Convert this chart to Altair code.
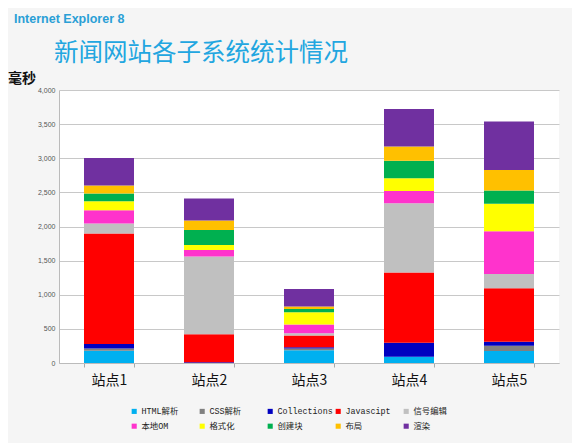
import altair as alt
import pandas as pd

sites = ['站点1', '站点2', '站点3', '站点4', '站点5']
categories = ['HTML解析', 'CSS解析', 'Collections', 'Javascipt', '信号编辑',
              '本地OM', '格式化', '创建块', '布局', '渲染']
colors = ['#00b0f0', '#808080', '#0000c0', '#ff0000', '#c0c0c0',
          '#ff33cc', '#ffff00', '#00b050', '#ffc000', '#7030a0']

# values per category, one per site (ms)
html_parse = [181, 0, 186, 93, 176]
css_parse = [30, 0, 25, 0, 78]
collections = [69, 12, 20, 205, 59]
javascipt = [1616, 411, 171, 1028, 784]
signal_edit = [147, 1136, 34, 1014, 206]
local_om = [196, 98, 127, 181, 627]
formatting = [132, 73, 181, 186, 402]
create_block = [113, 220, 49, 255, 196]
layout = [118, 137, 34, 211, 299]
render = [402, 323, 259, 548, 710]

series = [html_parse, css_parse, collections, javascipt, signal_edit,
          local_om, formatting, create_block, layout, render]

rows = []
for i, (cat, vals) in enumerate(zip(categories, series)):
    for site, v in zip(sites, vals):
        rows.append({'site': site, 'category': cat, 'order': i, 'ms': v})
df = pd.DataFrame(rows)

bars = alt.Chart(df).mark_bar(size=50).encode(
    x=alt.X('site:N', sort=sites, title=None,
            scale=alt.Scale(paddingInner=0.5, paddingOuter=0.25),
            axis=alt.Axis(labelAngle=0, labelFontSize=14, labelColor='#111',
                          labelFont='Noto Sans CJK SC', labelPadding=6,
                          tickBand='extent', tickColor='#aaa', tickSize=4,
                          domainColor='#bbb', grid=False)),
    y=alt.Y('sum(ms):Q', title=None,
            scale=alt.Scale(domain=[0, 4000], nice=False),
            axis=alt.Axis(values=list(range(0, 4001, 500)), format=',.0f',
                          labelFontSize=7, labelColor='#555', labelPadding=4,
                          ticks=False, domainColor='#bbb',
                          gridColor='#c8c8c8', gridWidth=1.2)),
    color=alt.Color('category:N', sort=categories,
                    scale=alt.Scale(domain=categories, range=colors),
                    legend=alt.Legend(title=None, orient='none', legendX=71, legendY=317,
                                      direction='horizontal',
                                      columns=5, gridAlign='all', columnPadding=1,
                                      rowPadding=6, symbolType='square', symbolSize=26,
                                      symbolStrokeWidth=0, labelOffset=3,
                                      labelFont='Liberation Mono, Noto Sans CJK SC',
                                      labelFontSize=8.4, labelColor='#222')),
    order=alt.Order('order:Q', sort='ascending'),
    tooltip=['site:N', 'category:N', 'ms:Q']
)

texts = pd.DataFrame({
    'label': ['Internet Explorer 8', '新闻网站各子系统统计情况', '毫秒'],
})

ie_label = alt.Chart(texts.iloc[[0]]).mark_text(
    align='left', baseline='alphabetic', fontSize=12.5, fontWeight='bold',
    font='Liberation Sans', color='#2a9fd6'
).encode(x=alt.value(-45), y=alt.value(-67), text='label:N')

main_title = alt.Chart(texts.iloc[[1]]).mark_text(
    align='left', baseline='alphabetic', fontSize=24.5,
    font='Noto Sans CJK SC', color='#22a6e0'
).encode(x=alt.value(-5), y=alt.value(-29), text='label:N')

unit_label = alt.Chart(texts.iloc[[2]]).mark_text(
    align='left', baseline='alphabetic', fontSize=14, fontWeight='bold',
    font='Noto Sans CJK SC', color='#111'
).encode(x=alt.value(-51), y=alt.value(-7), text='label:N')

chart = alt.layer(bars, ie_label, main_title, unit_label).properties(
    width=500, height=273,
    background='#f5f5f5',
    padding={'left': 51, 'top': 82, 'right': 13, 'bottom': 80},
    autosize=alt.AutoSizeParams(type='none')
).configure_view(fill='white', stroke=None)

chart.save("out.html", embed_options={"renderer": "svg", "actions": False})
